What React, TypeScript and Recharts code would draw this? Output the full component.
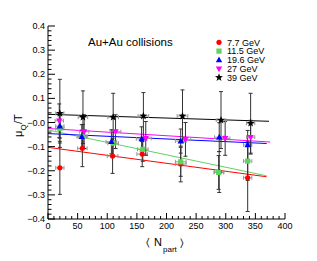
import React from 'react';
import { ComposedChart, Scatter, Line, XAxis, YAxis, ErrorBar } from 'recharts';

// ---- data ----
const npart7 = [20, 58, 109, 159, 224, 289, 337];
const mu7 = [-0.188, -0.107, -0.139, -0.131, -0.172, -0.205, -0.229];
const errY7 = [0.11, 0.076, 0.072, 0.052, 0.074, 0.085, 0.14];

const npart11 = [20, 59, 110, 160, 224, 288, 337];
const mu11 = [-0.025, -0.058, -0.086, -0.111, -0.163, -0.207, -0.16];
const errY11 = [0.06, 0.05, 0.05, 0.05, 0.06, 0.07, 0.08];

const npart19 = [20, 57, 107, 158, 224, 289, 337];
const mu19 = [-0.015, -0.059, -0.08, -0.068, -0.077, -0.061, -0.093];
const errY19 = [0.05, 0.05, 0.05, 0.05, 0.05, 0.06, 0.06];

const npart27 = [19, 61, 114, 165, 232, 299, 342];
const mu27 = [0.007, -0.038, -0.038, -0.066, -0.07, -0.066, -0.061];
const errY27 = [0.07, 0.07, 0.07, 0.07, 0.07, 0.07, 0.07];

const npart39 = [20, 59, 110, 161, 227, 292, 342];
const mu39 = [0.038, 0.022, 0.022, 0.027, 0.027, 0.01, -0.003];
const errY39 = [0.141, 0.109, 0.099, 0.097, 0.108, 0.118, 0.124];

const errX = [7, 8, 9, 9, 9, 8, 7];

const fitX7 = [0, 369];
const fit7 = [-0.103, -0.225];
const fitX11 = [0, 369];
const fit11 = [-0.031, -0.221];
const fitX19 = [0, 369];
const fit19 = [-0.046, -0.087];
const fitX27 = [0, 375];
const fit27 = [-0.025, -0.081];
const fitX39 = [0, 373];
const fit39 = [0.034, 0.005];

const xMajor = [0, 50, 100, 150, 200, 250, 300, 350, 400];
const yMajor = [-0.4, -0.3, -0.2, -0.1, 0, 0.1, 0.2, 0.3, 0.4];
const yLabels = ['\u22120.4', '\u22120.3', '\u22120.2', '\u22120.1', '\u22120.0', '0.1', '0.2', '0.3', '0.4'];

const legendNames = ['7.7 GeV', '11.5 GeV', '19.6 GeV', '27 GeV', '39 GeV'];
const colors = ['#ff0000', '#5fd35f', '#0000ff', '#ff00ff', '#000000'];

const xMinor = Array.from({ length: 41 }, (_, i) => i * 10);
const yMinor = Array.from({ length: 41 }, (_, i) => Math.round((-0.4 + i * 0.02) * 1000) / 1000);

const FONT = '"Liberation Sans", Arial, Helvetica, sans-serif';

const mk = (xs: number[], ys: number[], ey: number[]) =>
  xs.map((x, i) => ({ x, y: ys[i], ex: errX[i], ey: ey[i] }));
const mkFit = (xs: number[], ys: number[]) => xs.map((x, i) => ({ x, y: ys[i] }));

const isMajorX = (v: number) => xMajor.some((m) => Math.abs(m - v) < 1e-6);
const isMajorY = (v: number) => yMajor.some((m) => Math.abs(m - v) < 1e-6);

const BottomTick = (p: any) => {
  const { x, y, payload } = p;
  const v = payload.value;
  const major = isMajorX(v);
  return (
    <g>
      <line x1={x} x2={x} y1={y} y2={y - (major ? 6 : 3)} stroke="#000" strokeWidth={1} />
      {major && (
        <text x={x} y={y + 10} textAnchor="middle" fontSize={9} fontFamily={FONT} fill="#000">
          {v}
        </text>
      )}
    </g>
  );
};
const TopTick = (p: any) => {
  const { x, y, payload } = p;
  const major = isMajorX(payload.value);
  return <line x1={x} x2={x} y1={y} y2={y + (major ? 6 : 3)} stroke="#000" strokeWidth={1} />;
};
const LeftTick = (p: any) => {
  const { x, y, payload } = p;
  const v = payload.value;
  const major = isMajorY(v);
  const idx = yMajor.findIndex((m) => Math.abs(m - v) < 1e-6);
  return (
    <g>
      <line x1={x} x2={x + (major ? 7 : 3.5)} y1={y} y2={y} stroke="#000" strokeWidth={1} />
      {major && idx >= 0 && (
        <text x={x - 3} y={y + 3} textAnchor="end" fontSize={9} fontFamily={FONT} fill="#000">
          {yLabels[idx]}
        </text>
      )}
    </g>
  );
};
const RightTick = (p: any) => {
  const { x, y, payload } = p;
  const major = isMajorY(payload.value);
  return <line x1={x} x2={x - (major ? 7 : 3.5)} y1={y} y2={y} stroke="#000" strokeWidth={1} />;
};

const Circle = (p: any) => <circle cx={p.cx} cy={p.cy} r={2.6} fill={colors[0]} />;
const Square = (p: any) => <rect x={p.cx - 2.6} y={p.cy - 2.6} width={5.2} height={5.2} fill={colors[1]} />;
const TriUp = (p: any) => (
  <polygon points={`${p.cx},${p.cy - 3.5} ${p.cx - 3.2},${p.cy + 2.3} ${p.cx + 3.2},${p.cy + 2.3}`} fill={colors[2]} />
);
const TriDown = (p: any) => (
  <polygon points={`${p.cx},${p.cy + 3.5} ${p.cx - 3.2},${p.cy - 2.3} ${p.cx + 3.2},${p.cy - 2.3}`} fill={colors[3]} />
);
const starPts = (cx: number, cy: number, R: number, r: number) => {
  const pts: string[] = [];
  for (let i = 0; i < 10; i++) {
    const rad = i % 2 === 0 ? R : r;
    const a = -Math.PI / 2 + (i * Math.PI) / 5;
    pts.push(`${cx + rad * Math.cos(a)},${cy + rad * Math.sin(a)}`);
  }
  return pts.join(' ');
};
const Star = (p: any) => <polygon points={starPts(p.cx, p.cy, 4.2, 1.7)} fill={colors[4]} />;

const legendShapes = [Circle, Square, TriUp, TriDown, Star];

const series = [
  { data: mk(npart7, mu7, errY7), shape: Circle },
  { data: mk(npart11, mu11, errY11), shape: Square },
  { data: mk(npart19, mu19, errY19), shape: TriUp },
  { data: mk(npart27, mu27, errY27), shape: TriDown },
  { data: mk(npart39, mu39, errY39), shape: Star },
];
const fits = [
  mkFit(fitX7, fit7),
  mkFit(fitX11, fit11),
  mkFit(fitX19, fit19),
  mkFit(fitX27, fit27),
  mkFit(fitX39, fit39),
];

export default function App() {
  return (
    <div style={{ position: 'absolute', left: 0, top: 0, width: 317, height: 261, background: '#fff' }}>
      <ComposedChart width={317} height={261} margin={{ top: 26, right: 32, left: 0, bottom: 0 }}>
        <XAxis
          xAxisId="b"
          type="number"
          dataKey="x"
          domain={[0, 400]}
          ticks={xMinor}
          interval={0}
          orientation="bottom"
          height={42}
          tickSize={0}
          tickMargin={0}
          tickLine={false}
          axisLine={{ stroke: '#000' }}
          tick={<BottomTick />}
          allowDataOverflow
        />
        <XAxis
          xAxisId="t"
          type="number"
          dataKey="x"
          domain={[0, 400]}
          ticks={xMinor}
          interval={0}
          orientation="top"
          height={0}
          tickSize={0}
          tickMargin={0}
          tickLine={false}
          axisLine={{ stroke: '#000' }}
          tick={<TopTick />}
          allowDataOverflow
        />
        <YAxis
          yAxisId="l"
          type="number"
          dataKey="y"
          domain={[-0.4, 0.4]}
          ticks={yMinor}
          interval={0}
          orientation="left"
          width={48}
          tickSize={0}
          tickMargin={0}
          tickLine={false}
          axisLine={{ stroke: '#000' }}
          tick={<LeftTick />}
          allowDataOverflow
        />
        <YAxis
          yAxisId="r"
          type="number"
          dataKey="y"
          domain={[-0.4, 0.4]}
          ticks={yMinor}
          interval={0}
          orientation="right"
          width={0}
          tickSize={0}
          tickMargin={0}
          tickLine={false}
          axisLine={{ stroke: '#000' }}
          tick={<RightTick />}
          allowDataOverflow
        />
        {fits.map((f, i) => (
          <Line
            key={'f' + i}
            xAxisId="b"
            yAxisId="l"
            data={f}
            dataKey="y"
            type="linear"
            stroke={colors[i]}
            strokeWidth={1}
            dot={false}
            activeDot={false}
            isAnimationActive={false}
          />
        ))}
        {series.map((s, i) => (
          <Scatter
            key={'s' + i}
            xAxisId="b"
            yAxisId="l"
            data={s.data}
            dataKey="y"
            shape={s.shape}
            isAnimationActive={false}
          >
            <ErrorBar dataKey="ex" direction="x" width={2} stroke="#999" strokeWidth={1} isAnimationActive={false} />
            <ErrorBar dataKey="ey" direction="y" width={2} stroke="#333" strokeWidth={1} isAnimationActive={false} />
          </Scatter>
        ))}
      </ComposedChart>
      <svg
        width={317}
        height={261}
        style={{ position: 'absolute', left: 0, top: 0, pointerEvents: 'none' }}
      >
        <text x={88} y={46} fontSize={11.5} fontFamily={FONT} fill="#000">
          Au+Au collisions
        </text>
        {legendNames.map((n, i) => {
          const Sh = legendShapes[i];
          const cy = 42.3 + i * 8.8;
          return (
            <g key={n}>
              <Sh cx={219} cy={cy} />
              <text x={227} y={cy + 3.2} fontSize={9} fontFamily={FONT} fill="#000">
                {n}
              </text>
            </g>
          );
        })}
        <text x={146} y={246} fontSize={11} fontFamily={FONT} fill="#000">
          {'\u2329'}
        </text>
        <text x={154} y={246} fontSize={11} fontFamily={FONT} fill="#000">
          N
        </text>
        <text x={163} y={252} fontSize={8} fontFamily={FONT} fill="#000">
          part
        </text>
        <text x={180} y={246} fontSize={11} fontFamily={FONT} fill="#000">
          {'\u232A'}
        </text>
        <g transform="translate(22,137) rotate(-90)">
          <text x={0} y={0} fontSize={11} fontFamily={FONT} fill="#000">
            {'\u03BC'}
          </text>
          <text x={6.5} y={4} fontSize={8} fontFamily={FONT} fill="#000">
            Q
          </text>
          <text x={13} y={0} fontSize={11} fontFamily={FONT} fill="#000">
            /T
          </text>
        </g>
      </svg>
    </div>
  );
}
